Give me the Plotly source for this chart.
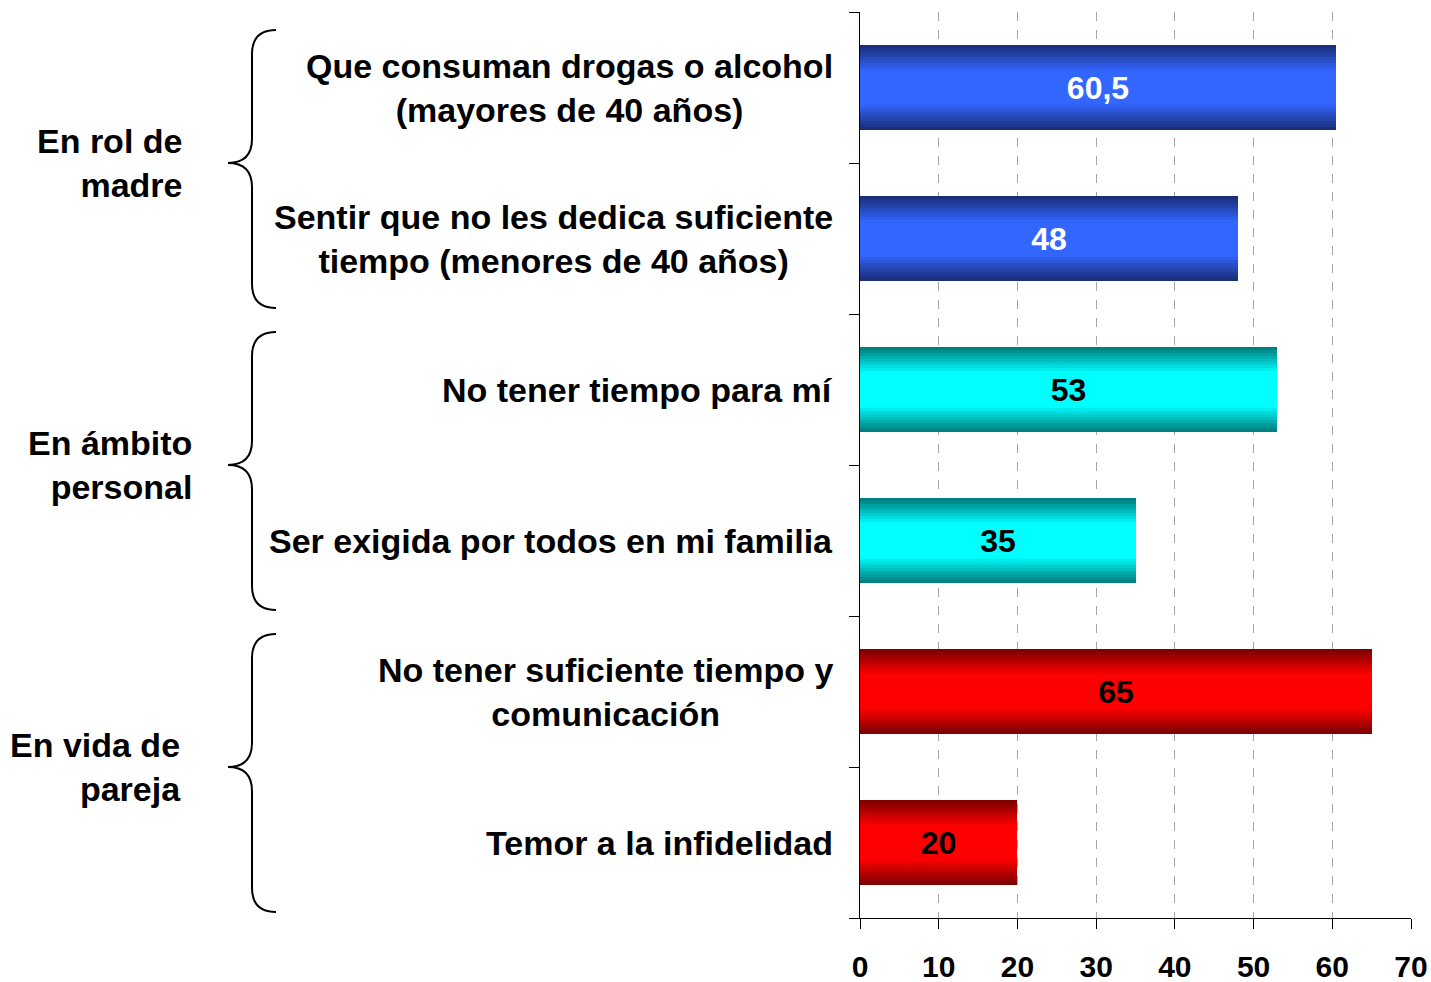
import plotly.graph_objects as go
import numpy as np

categories = [
    "Que consuman drogas o alcohol<br>(mayores de 40 años)",
    "Sentir que no les dedica suficiente<br>tiempo (menores de 40 años)",
    "No tener tiempo para mí",
    "Ser exigida por todos en mi familia",
    "No tener suficiente tiempo y<br>comunicación",
    "Temor a la infidelidad",
]
values = [60.5, 48, 53, 35, 65, 20]
groups = ["En rol de<br>madre", "En ámbito<br>personal", "En vida de<br>pareja"]
x_ticks = [0, 10, 20, 30, 40, 50, 60, 70]

# colour per bar: (dark edge, bright centre, label colour)
palette = [
    ((26, 47, 122), (51, 102, 255), "white"),
    ((26, 47, 122), (51, 102, 255), "white"),
    ((0, 128, 128), (0, 255, 255), "black"),
    ((0, 128, 128), (0, 255, 255), "black"),
    ((128, 0, 0), (255, 0, 0), "black"),
    ((128, 0, 0), (255, 0, 0), "black"),
]

FONT = "Liberation Sans, Arial, sans-serif"
BAR_W = 0.56
pos = np.arange(len(categories))

fig = go.Figure()

# fake vertical gradient: stacked overlay bars, narrower and brighter each step
n_layers = 14
for k in range(n_layers):
    t = k / (n_layers - 1)
    f = min(1.0, t * 1.6)
    w = BAR_W * (1 - t * 0.92)
    cols = []
    for dark, bright, _ in palette:
        c = [int(d + (b - d) * f) for d, b in zip(dark, bright)]
        cols.append(f"rgb({c[0]},{c[1]},{c[2]})")
    fig.add_trace(go.Bar(
        x=values, y=pos, orientation="h", width=w,
        marker=dict(color=cols, line=dict(width=0)),
        hoverinfo="skip", showlegend=False,
    ))

# value labels
fig.add_trace(go.Bar(
    x=values, y=pos, orientation="h", width=BAR_W,
    marker=dict(color="rgba(0,0,0,0)", line=dict(width=0)),
    text=["<b>" + f"{v:g}".replace(".", ",") + "</b>" for v in values],
    textposition="inside", insidetextanchor="middle",
    textfont=dict(family=FONT, size=32, color=[p[2] for p in palette]),
    showlegend=False,
))

# category labels
for i, cat in enumerate(categories):
    fig.add_annotation(
        x=-0.045, xref="paper", y=i, yref="y", text=f"<b>{cat}</b>",
        xanchor="right", yanchor="middle", align="center", showarrow=False,
        font=dict(family=FONT, size=34, color="black"),
    )

# group labels + braces
px2paper = lambda px: (px - 860) / 551
for g, name in enumerate(groups):
    mid = g * 2 + 0.5
    fig.add_annotation(
        x=px2paper([184, 194, 183][g]), xref="paper", y=mid, yref="y",
        text=f"<b>{name}</b>", xanchor="right", yanchor="middle",
        align="right", showarrow=False,
        font=dict(family=FONT, size=34, color="black"),
    )
    a, b = g * 2 - 0.38, g * 2 + 1.46
    xe, xs, xt = px2paper(276), px2paper(252), px2paper(228)
    r = 0.16
    path = (f"M {xe},{a} Q {xs},{a} {xs},{a + r} L {xs},{mid - r} "
            f"Q {xs},{mid} {xt},{mid} Q {xs},{mid} {xs},{mid + r} "
            f"L {xs},{b - r} Q {xs},{b} {xe},{b}")
    fig.add_shape(type="path", path=path, xref="paper", yref="y",
                  line=dict(color="black", width=2))

fig.update_layout(
    width=1431, height=982,
    barmode="overlay", bargap=0,
    plot_bgcolor="white", paper_bgcolor="white",
    margin=dict(l=860, r=20, t=12, b=64),
    font=dict(family=FONT, color="black"),
)
fig.update_xaxes(
    range=[0, 70], tickvals=x_ticks,
    ticktext=[f"<b>{v}</b>" for v in x_ticks],
    tickfont=dict(family=FONT, size=30, color="black"),
    ticklabelstandoff=12, automargin=False,
    showgrid=True, gridcolor="#a6a6a6", griddash="dash", gridwidth=1,
    showline=True, linecolor="black", linewidth=1,
    ticks="outside", ticklen=10, tickcolor="black",
    zeroline=False,
)
fig.update_yaxes(
    range=[len(categories) - 0.5, -0.5],
    tickvals=np.arange(len(categories) + 1) - 0.5,
    showticklabels=False, automargin=False,
    showgrid=False, zeroline=False,
    showline=True, linecolor="black", linewidth=1,
    ticks="outside", ticklen=10, tickcolor="black",
)

# drop the default 8px body margin so the figure sits at the page corner
fig.write_html("out.html", config={"displayModeBar": False},
               post_script="document.body.style.margin='0';")
